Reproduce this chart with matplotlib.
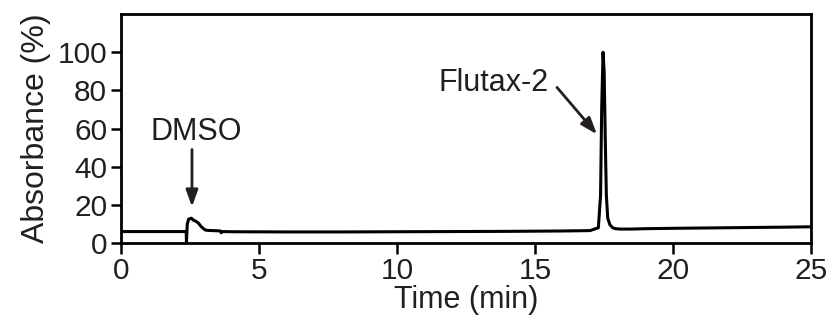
import matplotlib
matplotlib.use("Agg")
import matplotlib.pyplot as plt

plt.rcParams['font.family'] = ['Liberation Sans', 'DejaVu Sans']

# Chromatogram trace: retention time (min) and absorbance (%)
time_min = [0.0, 2.36, 2.37, 2.40, 2.45, 2.55, 2.62, 2.70, 2.80, 2.88, 2.95,
            3.05, 3.15, 3.30, 3.50, 3.60, 3.63, 3.66, 3.70, 4.0, 6.0, 8.0,
            10.0, 12.0, 14.0, 16.0, 17.0, 17.30, 17.38, 17.42, 17.47, 17.51,
            17.55, 17.59, 17.64, 17.72, 17.82, 17.92, 18.1, 18.5, 19.0, 20.0,
            22.0, 24.0, 25.0]
absorbance = [6.0, 6.0, 0.5, 10.0, 12.5, 13.0, 12.0, 11.5, 10.5, 9.0, 8.0,
              6.8, 6.6, 6.5, 6.4, 6.3, 5.4, 5.8, 6.0, 5.9, 5.8, 5.8,
              5.9, 6.0, 6.1, 6.3, 6.5, 8.0, 25.0, 70.0, 100.0, 90.0,
              55.0, 25.0, 13.0, 9.5, 8.0, 7.5, 7.3, 7.3, 7.5, 7.7,
              8.0, 8.3, 8.5]

x_ticks = [0, 5, 10, 15, 20, 25]
y_ticks = [0, 20, 40, 60, 80, 100]

ink = '#231f20'

fig = plt.figure(figsize=(8.35, 3.21), dpi=100)
ax = fig.add_axes([0.145, 0.243, 0.826, 0.713])

ax.plot(time_min, absorbance, color='black', lw=2.2, solid_joinstyle='round')

ax.set_xlim(0, 25)
ax.set_ylim(0, 120)
ax.set_xticks(x_ticks)
ax.set_yticks(y_ticks)
ax.tick_params(axis='both', direction='out', width=1.8, color='black',
               labelsize=21.5, labelcolor=ink)
ax.tick_params(axis='x', length=8, pad=2)
ax.tick_params(axis='y', length=7, pad=3)
for s in ax.spines.values():
    s.set_linewidth(2.0)
    s.set_color('black')

ax.set_xlabel('Time (min)', fontsize=22, color=ink, labelpad=0)
ax.set_ylabel('Absorbance (%)', fontsize=23, color=ink, labelpad=5)

arrow = dict(arrowstyle='-|>,head_length=1.0,head_width=0.36', color=ink,
             lw=2.0, shrinkA=0, shrinkB=0)
ax.annotate('', xy=(2.57, 19), xytext=(2.57, 49), arrowprops=arrow)
ax.text(2.72, 58, 'DMSO', fontsize=22, color=ink, ha='center', va='center')
ax.annotate('', xy=(17.25, 57), xytext=(15.8, 81.6), arrowprops=arrow)
ax.text(13.5, 84, 'Flutax-2', fontsize=22, color=ink, ha='center', va='center')

fig.savefig('out.png', dpi=100)
